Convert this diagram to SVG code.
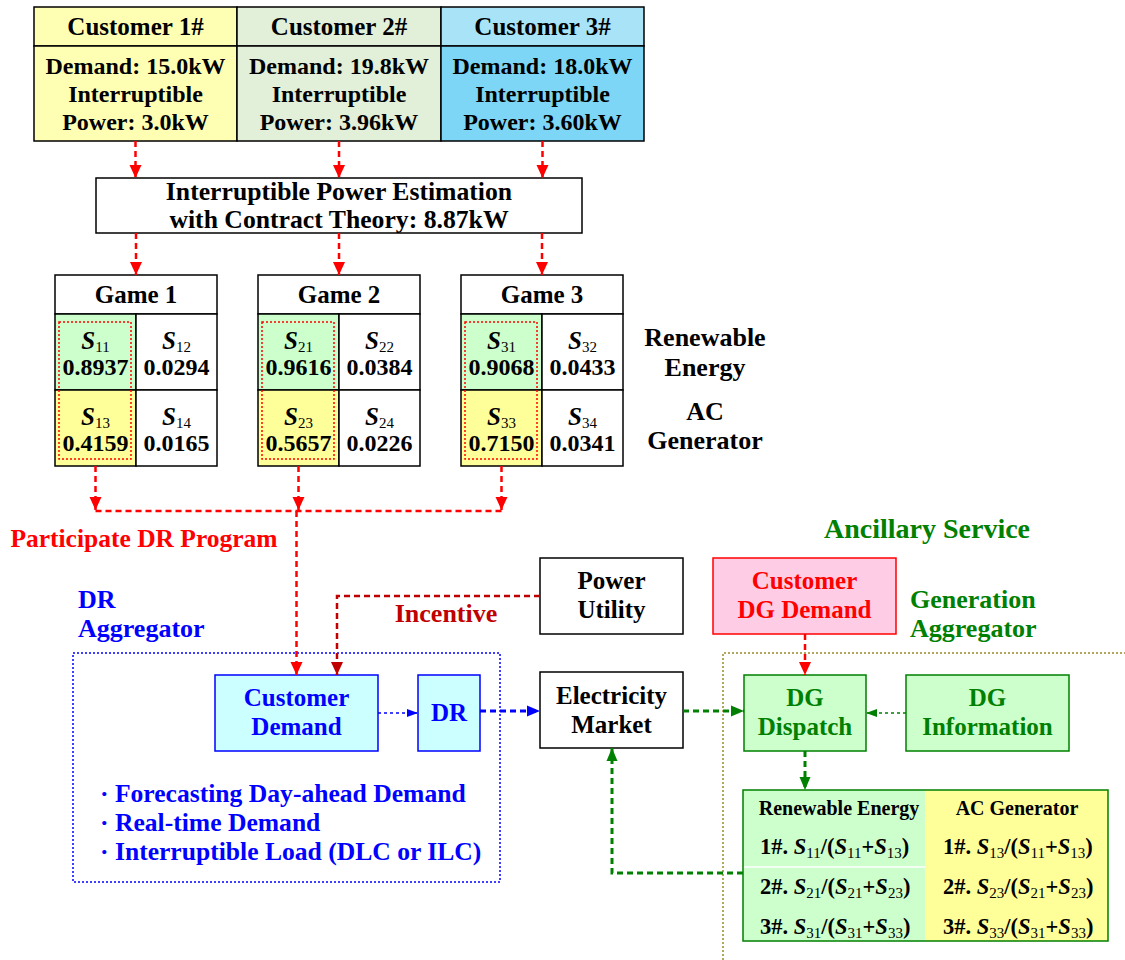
<svg xmlns="http://www.w3.org/2000/svg" width="1125" height="960" viewBox="0 0 1125 960">
<defs>
<style>
text{font-family:"Liberation Serif","Times New Roman",serif;font-weight:bold;font-size:25px;text-anchor:middle;fill:#000}
.c24{font-size:24px}
.l26{font-size:26px}
.bl{font-size:25.6px}
.v{font-size:24px}
.box{stroke:#000;stroke-width:1.5}
.it{font-style:italic}
.sub{font-size:15px;font-weight:normal}
.red{fill:#ff0000}
.blue{fill:#0000ff}
.green{fill:#008000}
.dred{fill:#c00000}
.cr{fill:none;stroke:#ff0000;stroke-width:2.5;stroke-dasharray:6,4}
.cdr{fill:none;stroke:#c00000;stroke-width:2.5;stroke-dasharray:6,4}
.cb{fill:none;stroke:#0000ff;stroke-width:3;stroke-dasharray:6,4}
.cbt{fill:none;stroke:#0000ff;stroke-width:1.5;stroke-dasharray:3,3}
.cg{fill:none;stroke:#008000;stroke-width:3;stroke-dasharray:6,4}
.cgt{fill:none;stroke:#008000;stroke-width:1.5;stroke-dasharray:3,3}
.tb{font-size:22.5px}
.tsub{font-size:15px;font-weight:normal}
.left{text-anchor:start}
</style>
<marker id="ar" markerUnits="userSpaceOnUse" markerWidth="14" markerHeight="14" viewBox="0 0 14 14" refX="13" refY="7" orient="auto"><path d="M0,1 L13,7 L0,13 Z" fill="#ff0000"/></marker>
<marker id="adr" markerUnits="userSpaceOnUse" markerWidth="14" markerHeight="14" viewBox="0 0 14 14" refX="13" refY="7" orient="auto"><path d="M0,1 L13,7 L0,13 Z" fill="#c00000"/></marker>
<marker id="ab" markerUnits="userSpaceOnUse" markerWidth="14" markerHeight="14" viewBox="0 0 14 14" refX="13" refY="7" orient="auto"><path d="M0,1.5 L13,7 L0,12.5 Z" fill="#0000ff"/></marker>
<marker id="abs" markerUnits="userSpaceOnUse" markerWidth="12" markerHeight="10" viewBox="0 0 12 10" refX="11" refY="5" orient="auto"><path d="M0,1 L11,5 L0,9 Z" fill="#0000ff"/></marker>
<marker id="ag" markerUnits="userSpaceOnUse" markerWidth="14" markerHeight="14" viewBox="0 0 14 14" refX="13" refY="7" orient="auto"><path d="M0,1.5 L13,7 L0,12.5 Z" fill="#008000"/></marker>
<marker id="ags" markerUnits="userSpaceOnUse" markerWidth="12" markerHeight="10" viewBox="0 0 12 10" refX="11" refY="5" orient="auto"><path d="M0,1 L11,5 L0,9 Z" fill="#008000"/></marker>
</defs>
<rect width="1125" height="960" fill="#fff"/>

<g id="customers">
<rect x="34" y="7" width="203" height="39" fill="#ffffb3" class="box"/>
<rect x="34" y="46" width="203" height="95" fill="#ffffb3" class="box"/>
<rect x="237" y="7" width="204" height="39" fill="#e2efd9" class="box"/>
<rect x="237" y="46" width="204" height="95" fill="#e2efd9" class="box"/>
<rect x="441" y="7" width="203" height="39" fill="#a9e3f7" class="box"/>
<rect x="441" y="46" width="203" height="95" fill="#7dd6f5" class="box"/>
<text x="135.5" y="35">Customer 1#</text>
<text x="339" y="35">Customer 2#</text>
<text x="542.5" y="35">Customer 3#</text>
<text x="135.5" y="74" class="c24">Demand: 15.0kW</text>
<text x="135.5" y="102" class="c24">Interruptible</text>
<text x="135.5" y="130" class="c24">Power: 3.0kW</text>
<text x="339" y="74" class="c24">Demand: 19.8kW</text>
<text x="339" y="102" class="c24">Interruptible</text>
<text x="339" y="130" class="c24">Power: 3.96kW</text>
<text x="542.5" y="74" class="c24">Demand: 18.0kW</text>
<text x="542.5" y="102" class="c24">Interruptible</text>
<text x="542.5" y="130" class="c24">Power: 3.60kW</text>
</g>

<g id="estimation">
<rect x="96" y="178" width="486" height="55" fill="#fff" class="box"/>
<text x="339" y="200" style="font-size:25.7px">Interruptible Power Estimation</text>
<text x="339" y="228" style="font-size:25.7px">with Contract Theory: 8.87kW</text>
</g>

<g id="game1">
<rect x="55" y="275" width="162" height="39" fill="#fff" class="box"/>
<rect x="55" y="314" width="81" height="76" fill="#ccffcc" class="box"/>
<rect x="136" y="314" width="81" height="76" fill="#fff" class="box"/>
<rect x="55" y="390" width="81" height="76" fill="#ffff99" class="box"/>
<rect x="136" y="390" width="81" height="76" fill="#fff" class="box"/>
<rect x="59" y="322" width="72" height="137" fill="none" stroke="#ff0000" stroke-width="1.5" stroke-dasharray="2,2"/>
<text x="136" y="303">Game 1</text>
<text x="95.5" y="349"><tspan class="it">S</tspan><tspan class="sub" dy="3">11</tspan></text>
<text x="95.5" y="375" class="v">0.8937</text>
<text x="176.5" y="349"><tspan class="it">S</tspan><tspan class="sub" dy="3">12</tspan></text>
<text x="176.5" y="375" class="v">0.0294</text>
<text x="95.5" y="425"><tspan class="it">S</tspan><tspan class="sub" dy="3">13</tspan></text>
<text x="95.5" y="451" class="v">0.4159</text>
<text x="176.5" y="425"><tspan class="it">S</tspan><tspan class="sub" dy="3">14</tspan></text>
<text x="176.5" y="451" class="v">0.0165</text>
</g>

<g id="game2">
<rect x="258" y="275" width="162" height="39" fill="#fff" class="box"/>
<rect x="258" y="314" width="81" height="76" fill="#ccffcc" class="box"/>
<rect x="339" y="314" width="81" height="76" fill="#fff" class="box"/>
<rect x="258" y="390" width="81" height="76" fill="#ffff99" class="box"/>
<rect x="339" y="390" width="81" height="76" fill="#fff" class="box"/>
<rect x="262" y="322" width="72" height="137" fill="none" stroke="#ff0000" stroke-width="1.5" stroke-dasharray="2,2"/>
<text x="339" y="303">Game 2</text>
<text x="298.5" y="349"><tspan class="it">S</tspan><tspan class="sub" dy="3">21</tspan></text>
<text x="298.5" y="375" class="v">0.9616</text>
<text x="379.5" y="349"><tspan class="it">S</tspan><tspan class="sub" dy="3">22</tspan></text>
<text x="379.5" y="375" class="v">0.0384</text>
<text x="298.5" y="425"><tspan class="it">S</tspan><tspan class="sub" dy="3">23</tspan></text>
<text x="298.5" y="451" class="v">0.5657</text>
<text x="379.5" y="425"><tspan class="it">S</tspan><tspan class="sub" dy="3">24</tspan></text>
<text x="379.5" y="451" class="v">0.0226</text>
</g>

<g id="game3">
<rect x="461" y="275" width="162" height="39" fill="#fff" class="box"/>
<rect x="461" y="314" width="81" height="76" fill="#ccffcc" class="box"/>
<rect x="542" y="314" width="81" height="76" fill="#fff" class="box"/>
<rect x="461" y="390" width="81" height="76" fill="#ffff99" class="box"/>
<rect x="542" y="390" width="81" height="76" fill="#fff" class="box"/>
<rect x="465" y="322" width="72" height="137" fill="none" stroke="#ff0000" stroke-width="1.5" stroke-dasharray="2,2"/>
<text x="542" y="303">Game 3</text>
<text x="501.5" y="349"><tspan class="it">S</tspan><tspan class="sub" dy="3">31</tspan></text>
<text x="501.5" y="375" class="v">0.9068</text>
<text x="582.5" y="349"><tspan class="it">S</tspan><tspan class="sub" dy="3">32</tspan></text>
<text x="582.5" y="375" class="v">0.0433</text>
<text x="501.5" y="425"><tspan class="it">S</tspan><tspan class="sub" dy="3">33</tspan></text>
<text x="501.5" y="451" class="v">0.7150</text>
<text x="582.5" y="425"><tspan class="it">S</tspan><tspan class="sub" dy="3">34</tspan></text>
<text x="582.5" y="451" class="v">0.0341</text>
</g>

<g id="labels">
<text x="705" y="346" class="l26">Renewable</text>
<text x="705" y="376" class="l26">Energy</text>
<text x="705" y="420" class="l26">AC</text>
<text x="705" y="449" class="l26">Generator</text>
<text x="144" y="547" class="red" style="font-size:25.5px">Participate DR Program</text>
<text x="927" y="538" class="green" style="font-size:28px">Ancillary Service</text>
<text x="78" y="608" class="blue left l26">DR</text>
<text x="78" y="637" class="blue left l26">Aggregator</text>
<text x="446" y="622" class="dred l26">Incentive</text>
<text x="910" y="608" class="green left l26">Generation</text>
<text x="910" y="637" class="green left l26">Aggregator</text>
</g>

<g id="dr-aggregator">
<rect x="73" y="653" width="427" height="229" fill="none" stroke="#0000ff" stroke-width="1.5" stroke-dasharray="2,2"/>
<text x="100" y="802" class="blue left bl">· Forecasting Day-ahead Demand</text>
<text x="100" y="831" class="blue left bl">· Real-time Demand</text>
<text x="100" y="860" class="blue left bl">· Interruptible Load (DLC or ILC)</text>
</g>

<g id="generation-aggregator">
<path d="M723 960 V653 H1125" fill="none" stroke="#9a8a2a" stroke-width="1.5" stroke-dasharray="2,2"/>
</g>

<g id="power-utility">
<rect x="540" y="558" width="143" height="76" fill="#fff" class="box"/>
<text x="611.5" y="589">Power</text>
<text x="611.5" y="618">Utility</text>
</g>

<g id="customer-dg-demand">
<rect x="713" y="558" width="183" height="76" fill="#ffcce6" stroke="#ff0000" stroke-width="1.5"/>
<text x="804.5" y="589" class="red">Customer</text>
<text x="804.5" y="618" class="red">DG Demand</text>
</g>

<g id="customer-demand">
<rect x="215" y="675" width="163" height="76" fill="#ccffff" stroke="#0000ff" stroke-width="1.5"/>
<text x="296.5" y="706" class="blue">Customer</text>
<text x="296.5" y="735" class="blue">Demand</text>
</g>

<g id="dr">
<rect x="418" y="675" width="62" height="76" fill="#ccffff" stroke="#0000ff" stroke-width="1.5"/>
<text x="449" y="721" class="blue">DR</text>
</g>

<g id="electricity-market">
<rect x="540" y="672" width="143" height="76" fill="#fff" class="box"/>
<text x="611.5" y="704">Electricity</text>
<text x="611.5" y="733">Market</text>
</g>

<g id="dg-dispatch">
<rect x="744" y="675" width="122" height="76" fill="#ccffcc" stroke="#008000" stroke-width="1.5"/>
<text x="805" y="706" class="green">DG</text>
<text x="805" y="735" class="green">Dispatch</text>
</g>

<g id="dg-information">
<rect x="906" y="675" width="163" height="76" fill="#ccffcc" stroke="#008000" stroke-width="1.5"/>
<text x="987.5" y="706" class="green">DG</text>
<text x="987.5" y="735" class="green">Information</text>
</g>

<g id="ratio-table">
<rect x="743" y="790" width="182" height="151" fill="#ccffcc"/>
<rect x="925" y="790" width="183" height="151" fill="#ffff99"/>
<line x1="743" y1="867" x2="925" y2="867" stroke="#fff" stroke-width="1.5"/>
<rect x="743" y="790" width="365" height="151" fill="none" stroke="#008000" stroke-width="1.5"/>
<text x="839" y="815" style="font-size:20px">Renewable Energy</text>
<text x="1017" y="815" style="font-size:20px">AC Generator</text>
<text x="760" y="854" class="tb left">1#. <tspan class="it">S</tspan><tspan class="tsub" dy="4">11</tspan><tspan dy="-4">/(</tspan><tspan class="it">S</tspan><tspan class="tsub" dy="4">11</tspan><tspan dy="-4">+</tspan><tspan class="it">S</tspan><tspan class="tsub" dy="4">13</tspan><tspan dy="-4">)</tspan></text>
<text x="760" y="894" class="tb left">2#. <tspan class="it">S</tspan><tspan class="tsub" dy="4">21</tspan><tspan dy="-4">/(</tspan><tspan class="it">S</tspan><tspan class="tsub" dy="4">21</tspan><tspan dy="-4">+</tspan><tspan class="it">S</tspan><tspan class="tsub" dy="4">23</tspan><tspan dy="-4">)</tspan></text>
<text x="760" y="934" class="tb left">3#. <tspan class="it">S</tspan><tspan class="tsub" dy="4">31</tspan><tspan dy="-4">/(</tspan><tspan class="it">S</tspan><tspan class="tsub" dy="4">31</tspan><tspan dy="-4">+</tspan><tspan class="it">S</tspan><tspan class="tsub" dy="4">33</tspan><tspan dy="-4">)</tspan></text>
<text x="943" y="854" class="tb left">1#. <tspan class="it">S</tspan><tspan class="tsub" dy="4">13</tspan><tspan dy="-4">/(</tspan><tspan class="it">S</tspan><tspan class="tsub" dy="4">11</tspan><tspan dy="-4">+</tspan><tspan class="it">S</tspan><tspan class="tsub" dy="4">13</tspan><tspan dy="-4">)</tspan></text>
<text x="943" y="894" class="tb left">2#. <tspan class="it">S</tspan><tspan class="tsub" dy="4">23</tspan><tspan dy="-4">/(</tspan><tspan class="it">S</tspan><tspan class="tsub" dy="4">21</tspan><tspan dy="-4">+</tspan><tspan class="it">S</tspan><tspan class="tsub" dy="4">23</tspan><tspan dy="-4">)</tspan></text>
<text x="943" y="934" class="tb left">3#. <tspan class="it">S</tspan><tspan class="tsub" dy="4">33</tspan><tspan dy="-4">/(</tspan><tspan class="it">S</tspan><tspan class="tsub" dy="4">31</tspan><tspan dy="-4">+</tspan><tspan class="it">S</tspan><tspan class="tsub" dy="4">33</tspan><tspan dy="-4">)</tspan></text>
</g>

<g id="connectors">
<path d="M135.5 141 V178" class="cr" marker-end="url(#ar)"/>
<path d="M339 141 V178" class="cr" marker-end="url(#ar)"/>
<path d="M542.5 141 V178" class="cr" marker-end="url(#ar)"/>
<path d="M136 233 V275" class="cr" marker-end="url(#ar)"/>
<path d="M339 233 V275" class="cr" marker-end="url(#ar)"/>
<path d="M542 233 V275" class="cr" marker-end="url(#ar)"/>
<path d="M95.5 466 V510" class="cr" marker-end="url(#ar)"/>
<path d="M298.5 466 V510" class="cr" marker-end="url(#ar)"/>
<path d="M501.5 466 V510" class="cr" marker-end="url(#ar)"/>
<path d="M95.5 511 H501.5" class="cr"/>
<path d="M296.5 511 V675" class="cr" marker-end="url(#ar)"/>
<path d="M540 596 H337 V675" class="cdr" marker-end="url(#adr)"/>
<path d="M378 713 H418" class="cbt" marker-end="url(#abs)"/>
<path d="M480 711 H540" class="cb" marker-end="url(#ab)"/>
<path d="M683 711 H744" class="cg" marker-end="url(#ag)"/>
<path d="M906 713 H866" class="cgt" marker-end="url(#ags)"/>
<path d="M805 634 V675" class="cr" marker-end="url(#ar)"/>
<path d="M805 751 V790" class="cg" marker-end="url(#ag)"/>
<path d="M743 873 H612 V748" class="cg" marker-end="url(#ag)"/>
</g>
</svg>
